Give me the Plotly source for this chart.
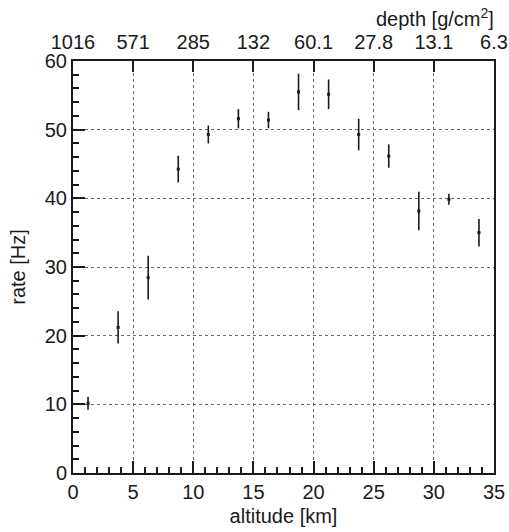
import plotly.graph_objects as go

# Altitude bins (km, bin centres), measured rate and its uncertainty
altitude_km = [1.25, 3.75, 6.25, 8.75, 11.25, 13.75, 16.25, 18.75,
               21.25, 23.75, 26.25, 28.75, 31.25, 33.75]
rate_hz = [10.15, 21.2, 28.45, 44.25, 49.3, 51.6, 51.4, 55.5,
           55.15, 49.3, 46.15, 38.15, 39.85, 35.0]
rate_err = [0.95, 2.35, 3.2, 1.95, 1.3, 1.4, 1.2, 2.65,
            2.15, 2.3, 1.7, 2.8, 0.8, 2.0]

# Secondary scale: atmospheric depth at each 5 km altitude mark
depth_tick_km = [0, 5, 10, 15, 20, 25, 30, 35]
depth_labels = ["1016", "571", "285", "132", "60.1", "27.8", "13.1", "6.3"]

FONT = "Liberation Sans, Arial, Helvetica, sans-serif"
INK = "#1a1a1a"

fig = go.Figure()
fig.add_trace(go.Scatter(
    x=altitude_km, y=rate_hz, mode="markers",
    marker=dict(symbol="square", size=3, color=INK),
    error_y=dict(type="data", array=rate_err, visible=True,
                 color=INK, thickness=1.6, width=0),
    showlegend=False, hoverinfo="x+y",
))
# Invisible carrier so the depth axis on top is laid out
fig.add_trace(go.Scatter(
    x=[0, 35], y=[0, 0], xaxis="x2", mode="markers",
    marker=dict(opacity=0), showlegend=False, hoverinfo="skip",
))

grid = dict(showgrid=True, gridcolor="#666666", gridwidth=1, griddash="dot")

fig.update_layout(
    width=509, height=532,
    margin=dict(l=73, r=15, t=61, b=59),
    paper_bgcolor="white", plot_bgcolor="white",
    font=dict(family=FONT, size=20, color=INK),
    xaxis=dict(
        range=[0, 35], tickmode="linear", tick0=0, dtick=5,
        ticks="inside", ticklen=12, tickwidth=1.5, tickcolor=INK,
        minor=dict(dtick=1, ticks="inside", ticklen=6, tickwidth=1.5,
                   tickcolor=INK, showgrid=False),
        showline=True, linecolor=INK, linewidth=2, mirror=True,
        zeroline=False, tickfont=dict(size=20), automargin=False,
        title=dict(text="altitude [km]", font=dict(size=20), standoff=7),
        **grid,
    ),
    xaxis2=dict(
        overlaying="x", side="top", range=[0, 35],
        tickmode="array", tickvals=depth_tick_km, ticktext=depth_labels,
        ticks="inside", ticklen=11, tickwidth=1.5, tickcolor=INK,
        showgrid=False, showline=False, zeroline=False,
        tickfont=dict(size=20), automargin=False, ticklabelstandoff=7,
    ),
    yaxis=dict(
        range=[0, 60], tickmode="linear", tick0=0, dtick=10,
        ticks="inside", ticklen=12, tickwidth=1.5, tickcolor=INK,
        minor=dict(dtick=2, ticks="inside", ticklen=6, tickwidth=1.5,
                   tickcolor=INK, showgrid=False),
        showline=True, linecolor=INK, linewidth=2, mirror=True,
        zeroline=False, tickfont=dict(size=20), automargin=False,
        title=dict(text="rate [Hz]", font=dict(size=20), standoff=14),
        **grid,
    ),
    annotations=[dict(
        text="depth [g/cm<sup>2</sup>]", xref="paper", yref="paper",
        x=1.005, y=1.0, yshift=29, xanchor="right", yanchor="bottom",
        showarrow=False, font=dict(size=20, color=INK),
    )],
)

fig.write_html("out.html")
